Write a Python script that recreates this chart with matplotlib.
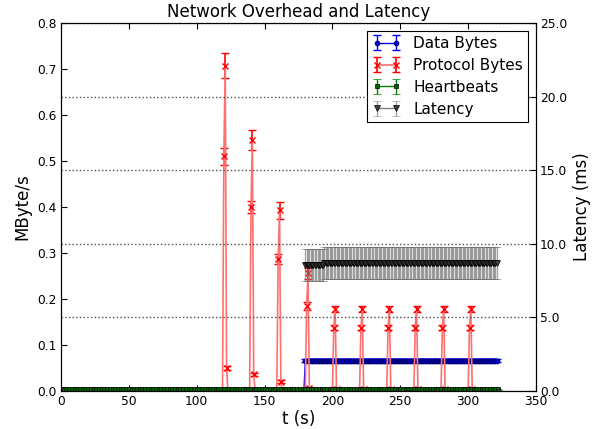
import numpy as np
import matplotlib
matplotlib.use('Agg')
import matplotlib.pyplot as plt

# heartbeats, MByte/s (sampled every 2 s)
hb_t = np.arange(0, 323, 2)
hb_level = 0.004
hb_err = 0.001

# data bytes, MByte/s
data_t = np.arange(0, 322)
data_start = 180
data_level = 0.066
data_err = 0.004

# protocol bytes, bursts of three samples
burst_t = [120, 140, 160, 181, 201, 221, 241, 261, 281, 301]
burst_vals = [
    [0.510, 0.707, 0.050],
    [0.400, 0.546, 0.036],
    [0.287, 0.393, 0.020],
    [0.185, 0.256, 0.006],
    [0.138, 0.178, 0.005],
    [0.138, 0.178, 0.005],
    [0.138, 0.178, 0.005],
    [0.138, 0.178, 0.005],
    [0.138, 0.178, 0.005],
    [0.138, 0.178, 0.005],
]
burst_err = [
    [0.019, 0.027, 0.004],
    [0.014, 0.021, 0.003],
    [0.010, 0.018, 0.003],
    [0.008, 0.012, 0.002],
    [0.005, 0.007, 0.002],
    [0.005, 0.007, 0.002],
    [0.005, 0.007, 0.002],
    [0.005, 0.007, 0.002],
    [0.005, 0.007, 0.002],
    [0.005, 0.007, 0.002],
]

# latency, ms: (first t, last t, value, error)
lat_segments = [(180, 193, 8.55, 1.1), (194, 321, 8.70, 1.1)]


def build_protocol():
    t = np.arange(0, 322)
    y = np.zeros(len(t))
    e = np.zeros(len(t))
    for start, vals, errs in zip(burst_t, burst_vals, burst_err):
        for k in range(3):
            y[start + k] = vals[k]
            e[start + k] = errs[k]
    return t, y, e


def build_latency():
    t, y, e = [], [], []
    for first, last, val, err in lat_segments:
        for s in range(first, last + 1):
            t.append(s)
            y.append(val)
            e.append(err)
    return np.array(t), np.array(y), np.array(e)


def main():
    fig = plt.figure(figsize=(6.04, 4.29), dpi=100)
    ax = fig.add_axes([61 / 604, 38 / 429, 475 / 604, 368 / 429])
    ax2 = ax.twinx()

    data_y = np.where(data_t >= data_start, data_level, 0.0)
    data_e = np.where(data_t >= data_start, data_err, 0.0)
    h1 = ax.errorbar(data_t, data_y, yerr=data_e, color='blue', marker='o',
                     markersize=3, markerfacecolor='blue', markeredgecolor='navy',
                     ecolor='blue', capsize=3, lw=1)

    p_t, p_y, p_e = build_protocol()
    h2 = ax.errorbar(p_t, p_y, yerr=p_e, color='#ff7070', marker='x',
                     markersize=4, markeredgecolor='red', ecolor='red',
                     capsize=3, lw=1.2)

    hb_y = np.full(len(hb_t), hb_level)
    hb_e = np.full(len(hb_t), hb_err)
    h3 = ax.errorbar(hb_t, hb_y, yerr=hb_e, color='green', marker='s',
                     markersize=3, markerfacecolor='darkgreen',
                     markeredgecolor='black', markeredgewidth=0.5,
                     ecolor='green', capsize=3, lw=1)

    l_t, l_y, l_e = build_latency()
    h4 = ax2.errorbar(l_t, l_y, yerr=l_e, color='gray', marker='v',
                      markersize=5, markerfacecolor='0.25',
                      markeredgecolor='black', markeredgewidth=0.5,
                      ecolor=(0.45, 0.45, 0.45, 0.65), elinewidth=1.0,
                      capsize=3, lw=1)

    ax.set_xlim(0, 350)
    ax.set_ylim(0, 0.8)
    ax2.set_ylim(0, 25)
    ax.set_xticks(np.arange(0, 351, 50))
    ax.set_yticks(np.arange(0, 0.81, 0.1))
    ax.set_yticklabels(['%.1f' % v for v in np.arange(0, 0.81, 0.1)])
    ax2.set_yticks(np.arange(0, 26, 5))
    ax2.set_yticklabels(['%.1f' % v for v in np.arange(0, 26, 5)])

    ax.tick_params(direction='in', top=True, labelsize=8.8, length=4, pad=3)
    ax2.tick_params(direction='in', labelsize=8.8, length=4, pad=3)
    ax2.grid(True, axis='y', linestyle=':', color='0.3', lw=1)

    ax.set_xlabel('t (s)', fontsize=12, labelpad=1)
    ax.set_ylabel('MByte/s', fontsize=12)
    ax2.set_ylabel('Latency (ms)', fontsize=12)
    ax.set_title('Network Overhead and Latency', fontsize=12, pad=4)

    leg = ax2.legend([h1, h2, h3, h4],
                     ['Data Bytes', 'Protocol Bytes', 'Heartbeats', 'Latency'],
                     loc='upper right', fontsize=11, numpoints=2,
                     handlelength=1.9, handletextpad=0.8,
                     fancybox=False, framealpha=1, edgecolor='black',
                     labelspacing=0.45, borderpad=0.35)
    leg.get_frame().set_linewidth(0.8)

    fig.savefig('out.png', dpi=100)


if __name__ == '__main__':
    main()
